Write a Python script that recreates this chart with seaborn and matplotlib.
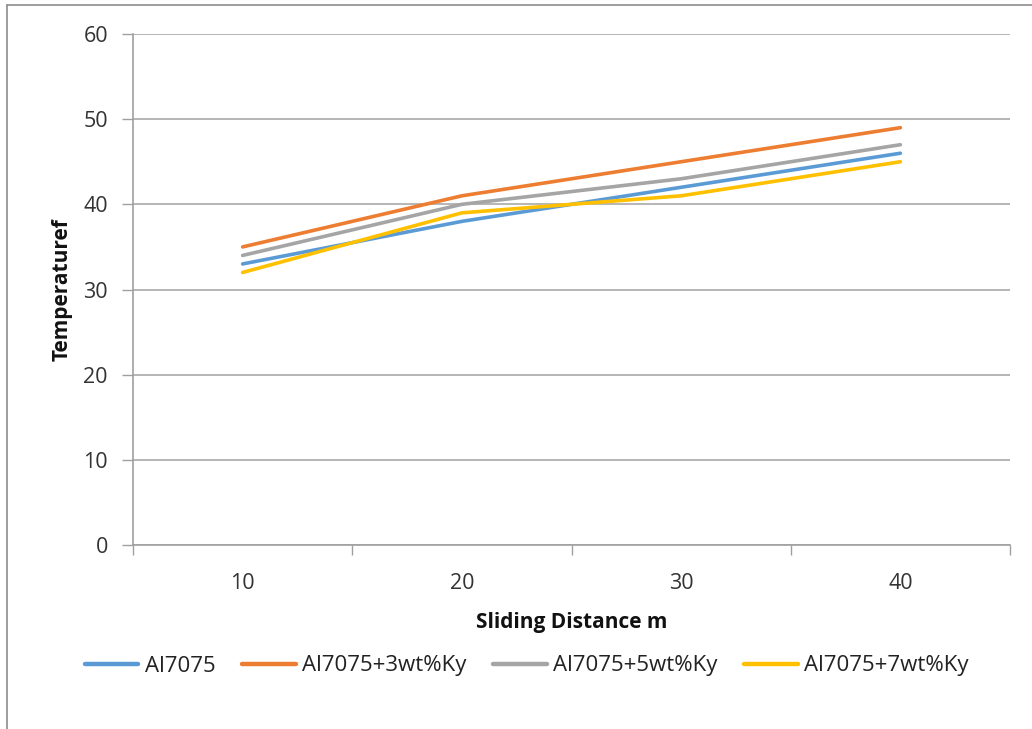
import matplotlib
matplotlib.use("Agg")
import matplotlib.pyplot as plt
import seaborn as sns
import pandas as pd
from matplotlib.lines import Line2D

distance = [10, 20, 30, 40]
al7075 = [33, 38, 42, 46]
al7075_3 = [35, 41, 45, 49]
al7075_5 = [34, 40, 43, 47]
al7075_7 = [32, 39, 41, 45]
series_names = ["Al7075", "Al7075+3wt%Ky", "Al7075+5wt%Ky", "Al7075+7wt%Ky"]
colors = ["#5b9bd5", "#ed7d31", "#a5a5a5", "#ffc000"]

rows = []
for name, vals in zip(series_names, [al7075, al7075_3, al7075_5, al7075_7]):
    for d, v in zip(distance, vals):
        rows.append({"Distance": d, "Temperature": v, "Series": name})
df = pd.DataFrame(rows)

sns.set_theme(style="white")
plt.rcParams["font.family"] = ["Open Sans", "DejaVu Sans"]

fig = plt.figure(figsize=(10.32, 7.29), dpi=100)
ax = fig.add_axes([133/1032, 1-545/729, (1010-133)/1032, (545-34)/729])

sns.lineplot(data=df, x="Distance", y="Temperature", hue="Series",
             hue_order=series_names, palette=colors, linewidth=2.6,
             ax=ax, legend=False)

ax.set_xlim(5, 45)
ax.set_ylim(0, 60)
ax.set_yticks(range(0, 61, 10))
ax.set_xticks(distance)
ax.set_xticks([5, 15, 25, 35, 45], minor=True)
ax.tick_params(axis="x", which="major", length=0, labelsize=15.5, pad=20)
ax.tick_params(axis="x", which="minor", length=7, width=1, color="#a0a0a0", direction="out", bottom=True)
ax.tick_params(axis="y", length=8, width=1, color="#a0a0a0", direction="out", labelsize=15.5, pad=10, left=True)
for lab in ax.get_yticklabels() + ax.get_xticklabels():
    lab.set_color("#333333")

ax.grid(axis="y", color="#b0b0b0", linewidth=1.3)
ax.grid(axis="x", visible=False)
for s in ["top", "right"]:
    ax.spines[s].set_visible(False)
for s in ["left", "bottom"]:
    ax.spines[s].set_color("#a0a0a0")
    ax.spines[s].set_linewidth(1.2)

ax.set_xlabel("Sliding Distance m", fontsize=15, fontweight="bold", color="#111111", labelpad=13)
ax.set_ylabel("Temperaturef", fontsize=15, fontweight="bold", color="#111111", labelpad=8)

handles = [Line2D([0], [0], color=c, linewidth=3.2) for c in colors]
fig.legend(handles, series_names, loc="center", bbox_to_anchor=(527/1032, 1-666/729),
           ncol=4, frameon=False, fontsize=16, handlelength=2.4, handletextpad=0.3,
           columnspacing=1.2, labelcolor="#222222")

# outer frame lines (top and left)
fig.add_artist(Line2D([7/1032, 1.0], [1-5/729, 1-5/729], color="#8c8c8c", linewidth=1.2, transform=fig.transFigure))
fig.add_artist(Line2D([7/1032, 7/1032], [0, 1-5/729], color="#8c8c8c", linewidth=1.2, transform=fig.transFigure))

fig.savefig("out.png", dpi=100)
